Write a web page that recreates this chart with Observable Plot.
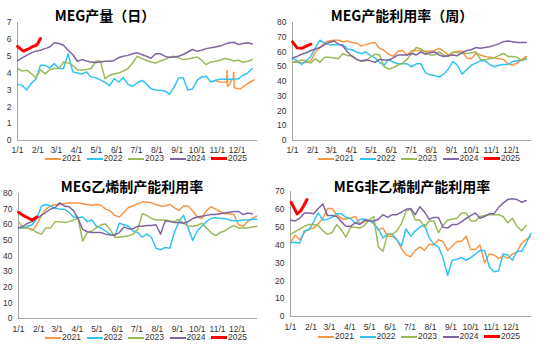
<!DOCTYPE html>
<html><head><meta charset="utf-8">
<script src="https://cdn.jsdelivr.net/npm/d3@7"></script>
<script src="https://cdn.jsdelivr.net/npm/@observablehq/plot@0.6"></script>
<style>
body{margin:0;background:#fff;}
#root{position:relative;width:550px;height:348px;overflow:hidden;font-family:"Liberation Sans",Arial,sans-serif;}
.panel{position:absolute;width:275px;height:174px;}
.panel svg{position:absolute;left:0;top:0;}
.title{position:absolute;font-family:"Noto Sans CJK SC",sans-serif;font-weight:bold;font-size:14px;line-height:14px;color:#000;white-space:nowrap;transform:translate(-50%,-50%);}
.lg{position:absolute;height:9px;font-size:8.5px;line-height:9px;color:#333;white-space:nowrap;}
.sw{position:absolute;top:4.5px;width:16px;height:0;}
.lt{position:absolute;left:17px;top:0;}
</style>
</head><body>
<div id="root"></div>
<script>
const years = ["2021","2022","2023","2024","2025"];
const colors = ["#F79646","#33C3F3","#9BBB59","#8064A2","#FF0000"];
const monthTicks = [0,31,59,90,120,151,181,212,243,273,304,334];
const monthLabels = ["1/1","2/1","3/1","4/1","5/1","6/1","7/1","8/1","9/1","10/1","11/1","12/1"];

const titles = ["MEG产量（日）","MEG产能利用率（周）","MEG乙烯制产能利用率","MEG非乙烯制产能利用率"];
const yTicks1 = [0,1,2,3,4,5,6,7];
const yTicks2 = [0,10,20,30,40,50,60,70,80];
const yTicks3 = [0,10,20,30,40,50,60,70,80];
const yTicks4 = [0,10,20,30,40,50,60,70];

// Panel 1: MEG产量（日）
const p1_2021_days = [301,309,316,318,318.8,319.5,323,326,328,328.8,329.5,332,339,346,354,360];
const p1_2021 = [3.53,3.47,3.45,3.45,4.15,3.2,3.35,3.62,3.62,4.05,3.13,3.1,3.07,3.27,3.47,3.6];
const p1_2022 = [3.33,3.27,3.0,3.4,3.65,4.46,4.46,4.3,4.56,4.27,4.27,5.15,4.07,4.0,3.95,4.07,3.77,3.73,3.6,3.45,3.25,3.67,3.47,3.73,3.33,3.21,3.41,3.57,3.37,3.07,3.0,2.98,2.94,2.74,3.15,3.71,3.73,3.0,3.05,3.57,3.77,3.81,3.47,3.57,3.63,3.63,3.63,3.63,3.67,3.87,4.0,4.27];
const p1_2023 = [4.27,4.12,4.17,3.97,3.71,4.2,3.95,4.2,4.27,4.27,4.66,4.6,4.46,4.2,4.17,4.22,4.27,4.7,4.72,3.67,3.87,3.95,4.0,4.12,4.27,4.6,5.0,4.86,4.76,4.66,4.6,4.72,4.8,4.95,5.0,4.9,4.8,4.84,4.9,4.96,4.76,4.5,4.66,4.7,4.76,4.86,4.82,4.72,4.76,4.64,4.7,4.8];
const p1_2024 = [4.72,4.9,5.05,5.2,5.3,5.35,5.45,5.55,5.8,5.75,5.65,5.35,5.1,4.7,4.8,4.72,4.65,4.62,4.66,4.7,4.7,4.75,4.92,5.0,5.05,5.15,5.2,5.1,5.0,4.88,5.15,5.15,5.0,4.92,4.95,5.0,5.1,5.25,5.4,5.3,5.35,5.45,5.5,5.55,5.6,5.7,5.8,5.83,5.7,5.75,5.8,5.72];
const p1_2025_days = [0,4,9,15,22,28,31,34,35];
const p1_2025 = [5.58,5.45,5.3,5.4,5.55,5.65,5.75,6.0,6.05];

// Panel 2: 产能利用率（周）
const p2_2021 = [53,53,52.5,53,54,60,63,66.5,67.5,68,68,67,67.5,66.5,66,64,65,66,66.5,62.5,61,58.5,57,60.5,61,58,61,61,61,60.5,60.5,61,62.5,60.5,58,59.5,60.5,60.5,56,55.5,59,58,57,56.5,56,55.5,55,52,51,52.5,55,57];
const p2_2022 = [56,54,51.5,54,57,63,68,66,65,65,65,65,62,61.5,60,59,60,57.5,56,53,51,55,53,52,52,52,50,52,52,46,44.5,44,43,45,48.5,53.5,51,45,48,51,52.5,54,54,51.5,50,51,51.5,51.5,53.5,54,54.5,55];
const p2_2023 = [53,53.5,54.5,54,52.5,55.5,53,56.5,56.5,56,55.5,59,57.5,57.5,55,53.5,54,56.5,58.5,58,50,48.5,49.5,51,52.5,55,59,63,62,60,58,58,60,58,57,60,59.5,59,59,59.5,60,55,54.5,55.5,56,57.5,59,57,57,56.5,54,56];
const p2_2024 = [56,57,58.5,59.5,61,62,63,65,66.5,67.5,65.5,64,60,57,55,54,54.5,54,53,55,54.5,54.5,56,58,58,58,59,58,60,58.5,59.5,60,58,57,57.5,58,57.5,59.5,61,61.5,63,62.5,63,63.5,64.5,65.5,67,67.5,67,66.5,66.5,66.5];
const p2_2025 = [66.9,62.8,62.5,64,65.3];

// Panel 3: 乙烯制产能利用率
const p3_2021 = [58,58,58,56.5,60,66,70,72,73,73,73.5,74,74,74,73.5,73,72.5,73,72.5,70,69,66,65,68,71,72,73.5,74.5,74.5,74,73,72,72,73,71,69,72,72,69,65,64,69,71.5,70,68.5,67,67,66.5,60,59,62,64,65.5];
const p3_2022 = [58,58,59,60,64,72,73,72,70.5,70,70,68,65,64.5,65,62,63,59,58,56,54,53,61,60,59,56,55,52,54,52,45,44,45.5,45,55,62,66,58,50,56,59,62,64,64.5,64,64,63,62.5,62.5,63,63,63.5,63.5];
const p3_2023 = [62,58,58,57,55,54,58,58,62,62,61.5,62,63,64,49.5,55,56,58,60,60.5,57,52,52,52.5,53,54,57,67,66,64,63,63,63,62.5,62,63.5,61,59,59,59.5,61,58,55,53,55,56,58,59.5,58,58,58,58.5,59];
const p3_2024 = [58,59,61,62,64,66,68,70,71,74,72,71.5,69,64,57,55.5,55,55,55,54,53.5,53.5,55,58.5,57.5,57.5,59,59,59.5,59.5,60,54,62.5,62,61.5,61.5,61,62,64,65,65.5,66,66.5,66.5,67,67.5,68,68.5,68.5,66.5,67.5,67];
const p3_2025 = [68,66,64.5,63,65];

// Panel 4: 非乙烯制产能利用率
const p4_2021 = [41.5,45.5,43,47,49,49.5,52,55,60.5,60.5,57,55,54.5,55,56,52,53,54,52.5,48.5,49.5,45,45,43,38,34.5,33.5,37,39,37,40.5,40,43,42,37,39.5,42,42,45,37.5,37.5,40,30,35,34.5,32.5,34,32.5,35,36,41,43,45];
const p4_2022 = [41.5,41.5,41,48,48.5,53,58,54,54.5,55.5,57.5,57.5,55.5,55,52,54.5,54.5,54,52,49,44,46,46,43,39.5,49,45,48,50,51.5,44,40.5,39,33,23,31.5,32,33,31.5,33,35,37,37,28,25,25.5,35,34.5,31.5,36.5,36.5,41,46.5];
const p4_2023 = [46,47.5,49,50.5,51.5,51.5,51,48,46,47,51.5,48.5,44.5,50,50,49.5,51,54,56,39,36.5,46,46,48,52,59,60,54,54,50,53.5,53.5,47,51,54,54.5,55,58,58,53.5,53.5,56,56.5,57,57,57,56,52.5,55,50.5,48,51];
const p4_2024 = [54,53.5,55,58,58,57.5,60.5,63,56.5,56.5,56,53,50.5,50.5,52.5,51.5,54,53.5,53.5,54.5,57,55.5,57,57,58.5,60,60.5,57,61.5,58.5,54.5,55.5,55.5,50,49.5,51.5,51.5,53,55,56.5,58,55,56,57.5,57.5,61,63.5,65.5,66,65.5,64,65];
const p4_2025_days = [1,10,15,20,25];
const p4_2025 = [64,57.5,59,62,65.5];

function weekly(vals, start = 0) { return vals.map((v, i) => ({day: start + i * 7, v})); }
function dated(days, vals) { return vals.map((v, i) => ({day: days[i], v})); }

const panels = [
  {title: titles[0], left: 0, top: 0, yTicks: yTicks1, yMax: 7,
   g: {h: 160, mt: 22, mb: 20, ml: 17, mr: 18, tp: 6}, tx: 105, ty: 15, ly: 154, lx: 45,
   series: [dated(p1_2021_days, p1_2021), weekly(p1_2022), weekly(p1_2023), weekly(p1_2024), dated(p1_2025_days, p1_2025)]},
  {title: titles[1], left: 275, top: 0, yTicks: yTicks2, yMax: 80,
   g: {h: 160, mt: 22, mb: 20, ml: 17, mr: 19, tp: 6}, tx: 127, ty: 15, ly: 154, lx: 43,
   series: [weekly(p2_2021), weekly(p2_2022), weekly(p2_2023), weekly(p2_2024), weekly(p2_2025)]},
  {title: titles[2], left: 0, top: 174, yTicks: yTicks3, yMax: 80,
   g: {h: 164, mt: 19, mb: 20, ml: 18, mr: 18, tp: 7}, tx: 132, ty: 12, ly: 159, lx: 45,
   series: [weekly(p3_2021), weekly(p3_2022), weekly(p3_2023), weekly(p3_2024), weekly(p3_2025)]},
  {title: titles[3], left: 275, top: 174, yTicks: yTicks4, yMax: 70,
   g: {h: 162, mt: 17, mb: 20, ml: 15, mr: 19, tp: 7}, tx: 137, ty: 12, ly: 158, lx: 43,
   series: [weekly(p4_2021), weekly(p4_2022), weekly(p4_2023), weekly(p4_2024), dated(p4_2025_days, p4_2025)]}
];

const root = document.getElementById("root");
const labelMap = new Map(monthTicks.map((t, i) => [t, monthLabels[i]]));

for (const p of panels) {
  const div = document.createElement("div");
  div.className = "panel";
  div.style.left = p.left + "px";
  div.style.top = p.top + "px";
  const chart = Plot.plot({
    width: 275, height: p.g.h,
    marginTop: p.g.mt, marginBottom: p.g.mb, marginLeft: p.g.ml, marginRight: p.g.mr,
    style: {fontFamily: "'Liberation Sans', Arial, sans-serif", fontSize: "8.5px", color: "#333", background: "transparent", overflow: "visible"},
    x: {domain: [0, 365], ticks: monthTicks, tickFormat: d => labelMap.get(d), tickSize: 0, tickPadding: p.g.tp, label: null},
    y: {domain: [0, p.yMax], ticks: p.yTicks, tickFormat: d => String(d), tickSize: 0, tickPadding: 6, label: null},
    marks: [
      Plot.ruleX([0], {stroke: "#a6a6a6", strokeWidth: 1}),
      Plot.ruleY([0], {stroke: "#a6a6a6", strokeWidth: 1}),
      ...p.series.map((s, i) => Plot.line(s, {x: "day", y: "v", stroke: colors[i], strokeWidth: i === 4 ? 3 : 1.5, strokeLinejoin: "round"}))
    ]
  });
  div.appendChild(chart);
  const t = document.createElement("div");
  t.className = "title";
  t.textContent = p.title;
  t.style.left = p.tx + "px";
  t.style.top = p.ty + "px";
  div.appendChild(t);
  years.forEach((y, i) => {
    const it = document.createElement("div");
    it.className = "lg";
    it.style.left = (p.lx + i * 41.5) + "px";
    it.style.top = p.ly + "px";
    const sw = document.createElement("div");
    sw.className = "sw";
    sw.style.borderTop = (i === 4 ? 3 : 2) + "px solid " + colors[i];
    sw.style.marginTop = (i === 4 ? -1.5 : -1) + "px";
    const lt = document.createElement("div");
    lt.className = "lt";
    lt.textContent = y;
    it.appendChild(sw); it.appendChild(lt);
    div.appendChild(it);
  });
  root.appendChild(div);
}
</script>
</body></html>
